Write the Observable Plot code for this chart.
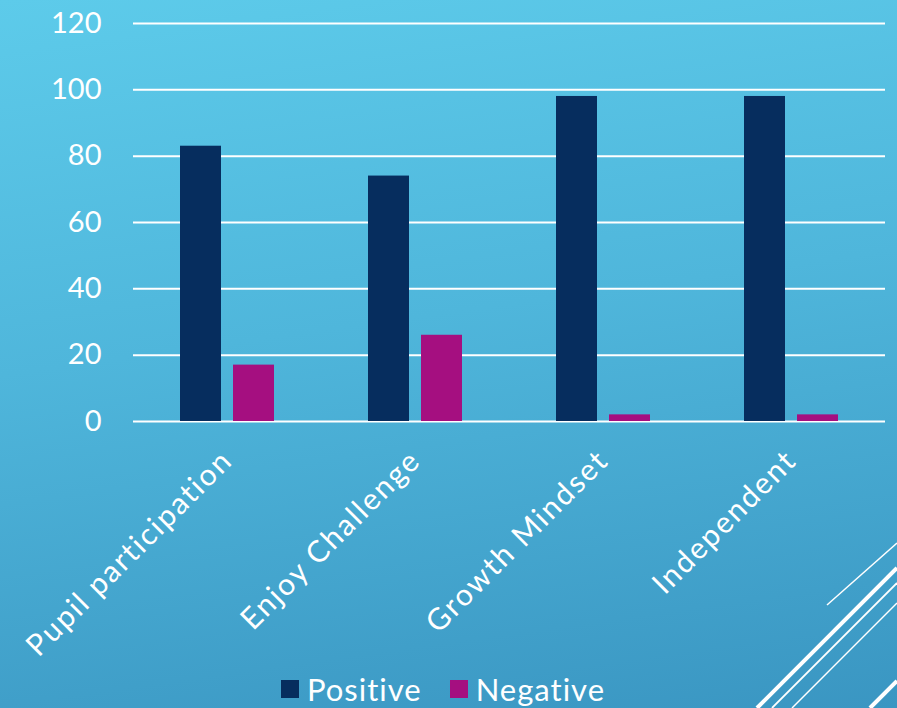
<!DOCTYPE html>
<html>
<head>
<meta charset="utf-8">
<script src="https://cdn.jsdelivr.net/npm/d3@7"></script>
<script src="https://cdn.jsdelivr.net/npm/@observablehq/plot@0.6"></script>
<style>
  html, body { margin: 0; padding: 0; }
  body {
    width: 897px; height: 708px; overflow: hidden; position: relative;
    background: linear-gradient(172deg, #5dcbea 0%, #4fb6db 45%, #3a96c2 100%);
    font-family: "Lato", "Open Sans", sans-serif; color: white;
  }
  #chart svg { background: transparent; overflow: visible; }
  #chart g[aria-label="fx-axis tick label"] text { letter-spacing: 2px; }
  #legend { position: absolute; left: 0; top: 670px; width: 886px; display: flex; justify-content: center; }
  #decor { position: absolute; left: 0; top: 0; pointer-events: none; }
</style>
</head>
<body>
<div id="chart"></div>
<div id="legend"></div>
<svg id="decor" width="897" height="708">
  <g stroke="white" fill="none">
    <line x1="827" y1="605" x2="897" y2="543" stroke-width="1.5"/>
    <line x1="757" y1="708" x2="897" y2="568" stroke-width="4"/>
    <line x1="772" y1="708" x2="897" y2="583" stroke-width="1.8"/>
    <line x1="792" y1="708" x2="897" y2="603" stroke-width="1.5"/>
    <line x1="870" y1="708" x2="897" y2="681" stroke-width="4"/>
  </g>
</svg>
<script>
const categories = ["Pupil participation", "Enjoy Challenge", "Growth Mindset", "Independent"];
const series = ["Positive", "Negative"];
const positive = [83, 74, 98, 98];
const negative = [17, 26, 2, 2];
const yTicks = [0, 20, 40, 60, 80, 100, 120];
const colors = ["#062d5e", "#a50f80"];

const table = categories.flatMap((c, i) => [
  {category: c, series: "Positive", value: positive[i]},
  {category: c, series: "Negative", value: negative[i]}
]);

const chart = Plot.plot({
  width: 897,
  height: 668,
  marginLeft: 132,
  marginRight: 12,
  marginTop: 23,
  marginBottom: 247,
  style: {background: "transparent", color: "white", fontFamily: "Lato, 'Open Sans', sans-serif"},
  fx: {domain: categories, padding: 0, label: null},
  x: {domain: series, paddingInner: 0.222, paddingOuter: 0.854, axis: null},
  y: {domain: [0, 120], label: null},
  color: {domain: series, range: colors},
  marks: [
    Plot.ruleY(yTicks, {stroke: "white", strokeWidth: 2}),
    Plot.barY(table, {fx: "category", x: "series", y: "value", fill: "series"}),
    Plot.axisY({ticks: yTicks, tickSize: 0, tickPadding: 32, fontSize: 29, label: null, fill: "white"}),
    Plot.axisFx({anchor: "bottom", tickRotate: -45, tickSize: 0, tickPadding: 34, fontSize: 30, label: null, fill: "white"})
  ]
});
document.getElementById("chart").appendChild(chart);

const legend = document.getElementById("legend");
series.forEach((s, i) => {
  const item = document.createElement("span");
  item.style.cssText = "display:inline-flex;align-items:center;font-size:31px;letter-spacing:1px;margin:0 14px;";
  const sw = document.createElement("span");
  sw.style.cssText = `display:inline-block;width:18px;height:18px;background:${colors[i]};margin-right:8px;`;
  item.appendChild(sw);
  item.appendChild(document.createTextNode(s));
  legend.appendChild(item);
});
</script>
</body>
</html>
